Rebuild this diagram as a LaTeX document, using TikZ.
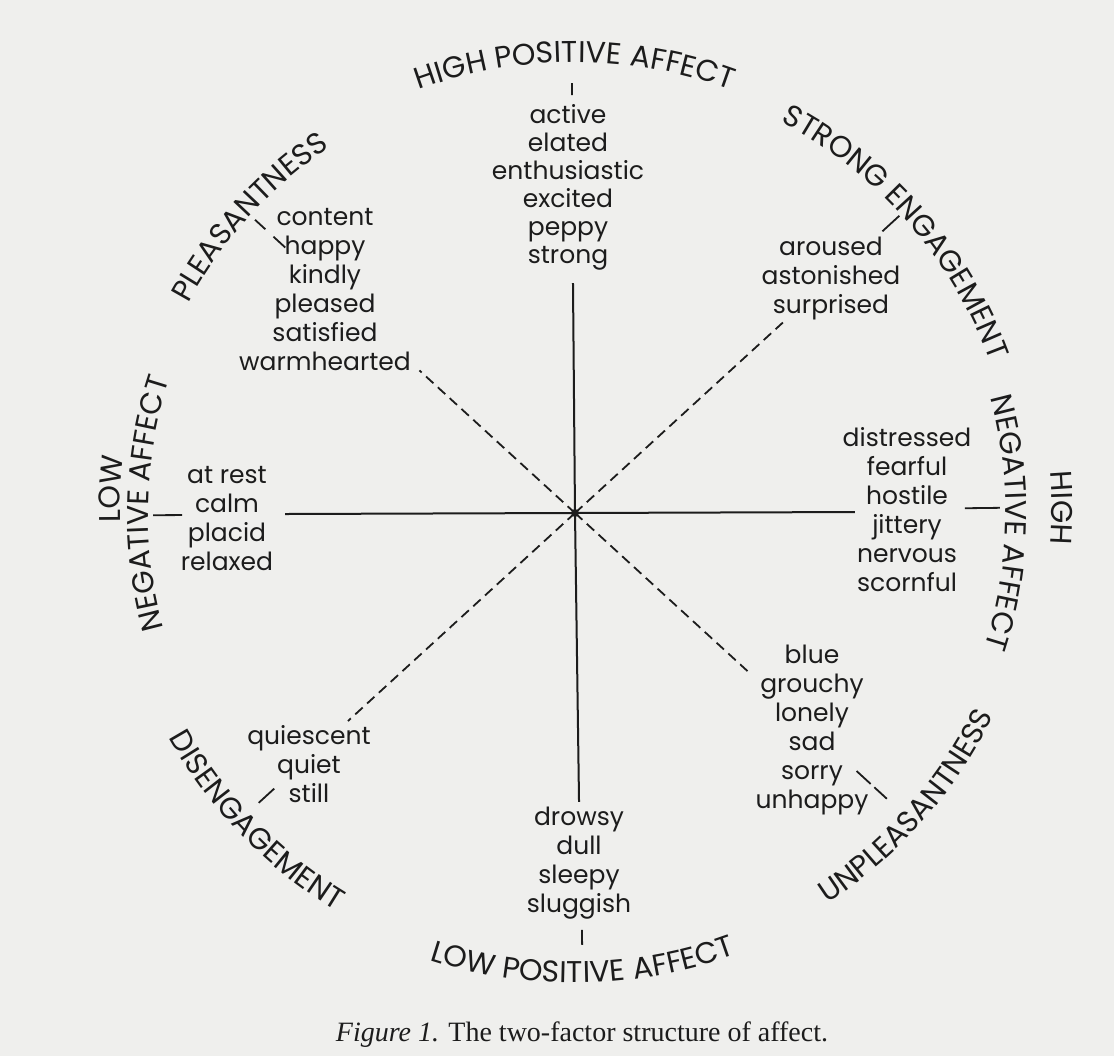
\documentclass[tikz,border=0pt]{standalone}
\usepackage{fontspec}
\setmainfont{Liberation Serif}
\newfontfamily\geofont{Poppins}
\usepackage{xcolor}
\usepackage{tikz}
\usetikzlibrary{calc,decorations.text}

\definecolor{paper}{RGB}{239,239,237}
\definecolor{ink}{RGB}{28,28,28}

\begin{document}
\begin{tikzpicture}[
    x=0.5pt, y=0.5pt,
    words/.style={align=center, inner sep=0pt, text=ink, font=\geofont\fontsize{12.5}{14.5}\selectfont},
    axisline/.style={draw=ink, line width=1pt},
    diagline/.style={draw=ink, line width=0.9pt, dash pattern=on 5pt off 3pt},
    tick/.style={draw=ink, line width=0.9pt},
    arclabel/.style={decorate, decoration={text along path, text align=center, text color=ink, text={|\geofont\fontsize{15}{17}\selectfont|#1}}}
]
    \fill[paper] (-575,-543) rectangle (539,513);
    \coordinate (c) at (0,0);

    \path[arclabel={HIGH POSITIVE AFFECT}] (130:451) arc[start angle=130, end angle=50, radius=451];
    \path[arclabel={LOW POSITIVE AFFECT}] (231:470) arc[start angle=231, end angle=311, radius=470];
    \path[arclabel={NEGATIVE AFFECT}] (218.7:427) arc[start angle=218.7, end angle=138.7, radius=427];
    \path[arclabel={LOW}] (207:455) arc[start angle=207, end angle=147, radius=455];
    \path[arclabel={NEGATIVE AFFECT}] (38.7:431) arc[start angle=38.7, end angle=-41.3, radius=431];
    \path[arclabel={HIGH}] (20.6:477) arc[start angle=20.6, end angle=-19.4, radius=477];
    \path[arclabel={PLEASANTNESS}] (172.7:440) arc[start angle=172.7, end angle=102.7, radius=440];
    \path[arclabel={STRONG ENGAGEMENT}] (81.2:442) arc[start angle=81.2, end angle=1.2, radius=442];
    \path[arclabel={DISENGAGEMENT}] (189:464) arc[start angle=189, end angle=259, radius=464];
    \path[arclabel={UNPLEASANTNESS}] (-81.5:465) arc[start angle=-81.5, end angle=-1.5, radius=465];

    \node[words, font=\geofont\fontsize{12.5}{14}\selectfont] (hpa) at (-7,326) {active\\elated\\enthusiastic\\excited\\peppy\\strong};
    \node[words] (ple) at (-250,223.5) {content\\happy\\kindly\\pleased\\satisfied\\warmhearted};
    \node[words] (eng) at (256,234.5) {aroused\\astonished\\surprised};
    \node[words] (hna) at (332,3) {distressed\\fearful\\hostile\\jittery\\nervous\\scornful};
    \node[words] (unp) at (237,-217) {blue\\grouchy\\lonely\\sad\\sorry\\unhappy};
    \node[words] (lpa) at (4,-350.5) {drowsy\\dull\\sleepy\\sluggish};
    \node[words] (dis) at (-266,-251.5) {quiescent\\quiet\\still};
    \node[words] (lna) at (-348,-5.5) {at rest\\calm\\placid\\relaxed};

    \foreach \n/\a/\r in {up/90.5/230, dn/270.8/289, lf/180.2/290, rt/0.2/280}
        \coordinate (e-\n) at (\a:\r);
    \foreach \n/\a/\r in {ul/137.5/211, ur/42.5/285, ll/222.5/308, lr/-42.5/239}
        \coordinate (e-\n) at (\a:\r);

    \foreach \n in {up,dn,lf,rt}
        \draw[axisline] (c) -- (e-\n);
    \foreach \n in {ul,ur,ll,lr}
        \draw[diagline] (c) -- (e-\n);

    \foreach \a/\ri/\ro in {90.4/418/430, 270.95/417/432, 180.3/393/422, 0.7/390/425,
        137.5/393/409, 137.5/420/434, 42.5/417/440, 222.5/408/429, -42.5/382/401, -42.5/406/423}
        \draw[tick] (\a:\ri) -- (\a:\ro);

    \fill[ink] (c) circle[radius=4];

    \node[text=ink, font=\fontsize{14}{16}\selectfont] (cap) at (7,-522) {\textit{Figure 1.} The two-factor structure of affect.};
\end{tikzpicture}
\end{document}
